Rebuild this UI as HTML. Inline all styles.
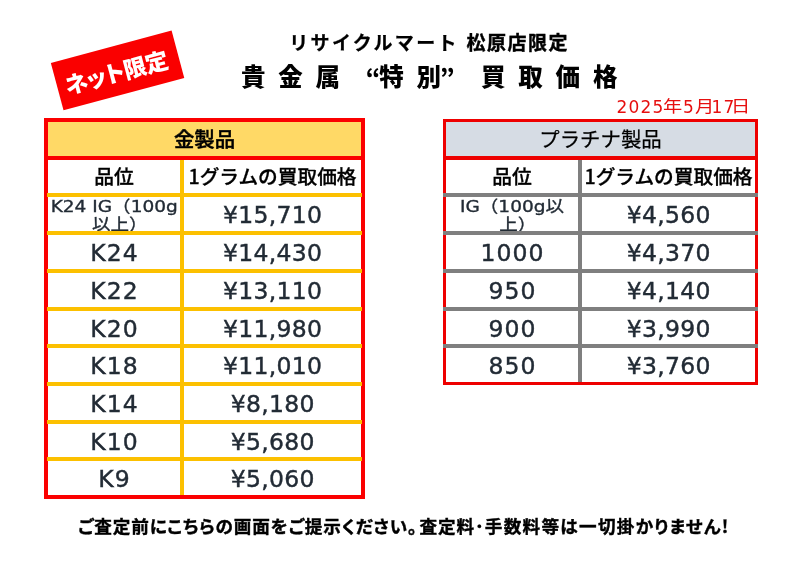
<!DOCTYPE html>
<html lang="ja">
<head>
<meta charset="utf-8">
<title>貴金属 特別 買取価格</title>
<style>
html,body{margin:0;padding:0;background:#fff;}
body{width:804px;height:587px;position:relative;overflow:hidden;font-family:"Liberation Sans","Noto Sans CJK JP",sans-serif;color:#000;}
.abs{position:absolute;}
.cell{display:flex;align-items:center;justify-content:center;text-align:center;white-space:nowrap;overflow:hidden;}
.hd{font-family:"Noto Sans CJK JP",sans-serif;font-size:20.4px;font-weight:400;color:#000;-webkit-text-stroke:0.25px #000;}
.hd.hb{font-weight:500;-webkit-text-stroke-width:0.45px;}
.hd span,.sh1 span,.sh2 span{position:relative;top:-1.2px;}
.sh1{font-family:"Noto Sans CJK JP",sans-serif;font-size:19.8px;font-weight:500;color:#000;-webkit-text-stroke:0.3px #000;}
.sh2{font-family:"Noto Sans CJK JP",sans-serif;font-size:19.7px;font-weight:500;color:#000;-webkit-text-stroke:0.3px #000;}
.c1,.c2{font-family:"DejaVu Sans","Noto Sans CJK JP",sans-serif;font-size:23.5px;color:#222b35;-webkit-text-stroke:0.35px #222b35;letter-spacing:0.4px;}
.c1 span,.c2 span{position:relative;top:1.2px;left:0.2px;}
.c1{letter-spacing:1.1px;-webkit-text-stroke-width:0.42px;}
.c1 span{left:0.55px;}
.c2{letter-spacing:0.3px;-webkit-text-stroke-width:0.42px;}
.c1.small{font-size:16.4px;line-height:18px;align-items:flex-start;-webkit-text-stroke:0.35px #222b35;letter-spacing:0;}
.c1.small span{display:inline-block;transform:scaleX(1.13);top:0.9px;left:0;}
.c1.small u{text-decoration:none;position:relative;}
.t1{left:290px;top:28px;font-family:"Noto Sans CJK JP",sans-serif;font-weight:700;font-size:19px;letter-spacing:1.5px;line-height:28px;white-space:pre;-webkit-text-stroke:0.4px #000;}
.t2{top:58px;font-family:"Noto Sans CJK JP",sans-serif;font-weight:900;font-size:24.5px;line-height:36px;white-space:pre;}
.t2 i{font-style:normal;display:inline-block;width:37.3px;}
.t2 i.q{width:12.5px;font-size:23px;}
.t2 i.n{width:24.5px;}
.date{left:0;top:95px;height:24px;line-height:24px;color:#e60f0f;white-space:nowrap;}
.date span{position:absolute;top:0;}
.date .d{font-family:"DejaVu Sans","Liberation Sans",sans-serif;font-size:17px;letter-spacing:1.2px;}
.date .k{font-family:"Noto Sans CJK JP",sans-serif;font-size:16px;font-weight:400;top:-1.8px;transform:scaleX(1.2);transform-origin:left center;}
.badge{left:55px;top:46px;width:124.5px;height:48.5px;background:#fa0000;transform:rotate(-15deg);display:flex;align-items:center;justify-content:center;color:#fff;font-family:"Noto Sans CJK JP",sans-serif;font-weight:900;font-size:23px;white-space:nowrap;font-feature-settings:"palt";letter-spacing:-0.4px;}
.badge span{position:relative;left:-1.5px;top:0.5px;}
.foot{left:78px;top:513px;font-family:"Noto Sans CJK JP",sans-serif;font-weight:700;font-size:17.6px;line-height:26px;white-space:nowrap;font-feature-settings:"palt";letter-spacing:0.9px;-webkit-text-stroke:0.4px #000;}
.foot b{font-weight:inherit;font-feature-settings:"palt" 0;margin-right:-7px;}
.foot span{letter-spacing:1.3px;}
</style>
</head>
<body>
<div class="abs badge"><span>ネット限定</span></div>
<div class="abs t1" style="left:289.3px;letter-spacing:2.3px;-webkit-text-stroke-width:0.25px">リサイクルマート </div><div class="abs t1" style="left:466.5px">松原店限定</div>
<div class="abs t2" style="left:241px"><i>貴</i><i>金</i><i>属</i></div>
<div class="abs t2" style="left:365.7px"><i class="q" style="width:13.5px">“</i><i>特</i><i class="n" style="width:23.5px">別</i><i class="q">”</i></div>
<div class="abs t2" style="left:481px"><i>買</i><i>取</i><i>価</i><i>格</i></div>
<div class="abs date"><span class="d" style="left:616.5px">2025</span><span class="k" style="left:663px">年</span><span class="d" style="left:683px">5</span><span class="k" style="left:694.5px">月</span><span class="d" style="left:711.5px">17</span><span class="k" style="left:731px">日</span></div>
<div class="abs" style="left:44px;top:118px;width:321px;height:380.5px;background:#fb0000"></div>
<div class="abs" style="left:48px;top:122px;width:313px;height:372.5px;background:#fff"></div>
<div class="abs cell hd hb" style="left:48px;top:122px;width:313px;height:34px;background:#ffd966"><span>金製品</span></div>
<div class="abs" style="left:48px;top:156px;width:313px;height:4px;background:#fb0000"></div>
<div class="abs cell sh1" style="left:48px;top:160px;width:132px;height:33px"><span>品位</span></div>
<div class="abs cell sh2" style="left:184px;top:160px;width:177px;height:33px"><span>1グラムの買取価格</span></div>
<div class="abs" style="left:180px;top:160px;width:4px;height:334.5px;background:#fcc000"></div>
<div class="abs" style="left:47px;top:193px;width:315px;height:3.9px;background:#fcc000"></div>
<div class="abs cell c1 small" style="left:48px;top:197.00px;width:132px;height:34.00px"><span>K24 IG（100g<br><u style="left:5px">以上）</u></span></div>
<div class="abs cell c2" style="left:184px;top:197.00px;width:177px;height:34.00px"><span>¥15,710</span></div>
<div class="abs" style="left:47px;top:231px;width:315px;height:3.9px;background:#fcc000"></div>
<div class="abs cell c1" style="left:48px;top:235.00px;width:132px;height:34.00px"><span>K24</span></div>
<div class="abs cell c2" style="left:184px;top:235.00px;width:177px;height:34.00px"><span>¥14,430</span></div>
<div class="abs" style="left:47px;top:269px;width:315px;height:3.9px;background:#fcc000"></div>
<div class="abs cell c1" style="left:48px;top:273.00px;width:132px;height:34.00px"><span>K22</span></div>
<div class="abs cell c2" style="left:184px;top:273.00px;width:177px;height:34.00px"><span>¥13,110</span></div>
<div class="abs" style="left:47px;top:307px;width:315px;height:3.9px;background:#fcc000"></div>
<div class="abs cell c1" style="left:48px;top:311.00px;width:132px;height:33.00px"><span>K20</span></div>
<div class="abs cell c2" style="left:184px;top:311.00px;width:177px;height:33.00px"><span>¥11,980</span></div>
<div class="abs" style="left:47px;top:344px;width:315px;height:3.9px;background:#fcc000"></div>
<div class="abs cell c1" style="left:48px;top:348.00px;width:132px;height:34.00px"><span>K18</span></div>
<div class="abs cell c2" style="left:184px;top:348.00px;width:177px;height:34.00px"><span>¥11,010</span></div>
<div class="abs" style="left:47px;top:382px;width:315px;height:3.9px;background:#fcc000"></div>
<div class="abs cell c1" style="left:48px;top:386.00px;width:132px;height:34.00px"><span>K14</span></div>
<div class="abs cell c2" style="left:184px;top:386.00px;width:177px;height:34.00px"><span>¥8,180</span></div>
<div class="abs" style="left:47px;top:420px;width:315px;height:3.9px;background:#fcc000"></div>
<div class="abs cell c1" style="left:48px;top:424.00px;width:132px;height:33.00px"><span>K10</span></div>
<div class="abs cell c2" style="left:184px;top:424.00px;width:177px;height:33.00px"><span>¥5,680</span></div>
<div class="abs" style="left:47px;top:457px;width:315px;height:3.9px;background:#fcc000"></div>
<div class="abs cell c1" style="left:48px;top:461.00px;width:132px;height:33.50px"><span>K9</span></div>
<div class="abs cell c2" style="left:184px;top:461.00px;width:177px;height:33.50px"><span>¥5,060</span></div>
<div class="abs" style="left:443px;top:119px;width:315px;height:266px;background:#ee0000"></div>
<div class="abs" style="left:446px;top:122px;width:309px;height:260px;background:#fff"></div>
<div class="abs cell hd" style="left:446px;top:122px;width:309px;height:34px;background:#d6dce4"><span>プラチナ製品</span></div>
<div class="abs" style="left:446px;top:156px;width:309px;height:4px;background:#ee0000"></div>
<div class="abs cell sh1" style="left:446px;top:160px;width:132px;height:33px"><span>品位</span></div>
<div class="abs cell sh2" style="left:582px;top:160px;width:173px;height:33px"><span>1グラムの買取価格</span></div>
<div class="abs" style="left:578px;top:160px;width:4px;height:222px;background:#7f7f7f"></div>
<div class="abs" style="left:443px;top:193px;width:315px;height:3.9px;background:#7f7f7f"></div>
<div class="abs cell c1 small" style="left:446px;top:197.00px;width:132px;height:34.00px"><span>IG（100g以<br><u style="left:5px">上）</u></span></div>
<div class="abs cell c2" style="left:582px;top:197.00px;width:173px;height:34.00px"><span>¥4,560</span></div>
<div class="abs" style="left:443px;top:231px;width:315px;height:3.9px;background:#7f7f7f"></div>
<div class="abs cell c1" style="left:446px;top:235.00px;width:132px;height:34.00px"><span>1000</span></div>
<div class="abs cell c2" style="left:582px;top:235.00px;width:173px;height:34.00px"><span>¥4,370</span></div>
<div class="abs" style="left:443px;top:269px;width:315px;height:3.9px;background:#7f7f7f"></div>
<div class="abs cell c1" style="left:446px;top:273.00px;width:132px;height:34.00px"><span>950</span></div>
<div class="abs cell c2" style="left:582px;top:273.00px;width:173px;height:34.00px"><span>¥4,140</span></div>
<div class="abs" style="left:443px;top:307px;width:315px;height:3.9px;background:#7f7f7f"></div>
<div class="abs cell c1" style="left:446px;top:311.00px;width:132px;height:33.00px"><span>900</span></div>
<div class="abs cell c2" style="left:582px;top:311.00px;width:173px;height:33.00px"><span>¥3,990</span></div>
<div class="abs" style="left:443px;top:344px;width:315px;height:3.9px;background:#7f7f7f"></div>
<div class="abs cell c1" style="left:446px;top:348.00px;width:132px;height:34.00px"><span>850</span></div>
<div class="abs cell c2" style="left:582px;top:348.00px;width:173px;height:34.00px"><span>¥3,760</span></div>
<div class="abs foot">ご査定前にこちらの画面をご提示ください<b>。</b>査定料･<span>手数料等は一切掛かりません!</span></div>
</body>
</html>
